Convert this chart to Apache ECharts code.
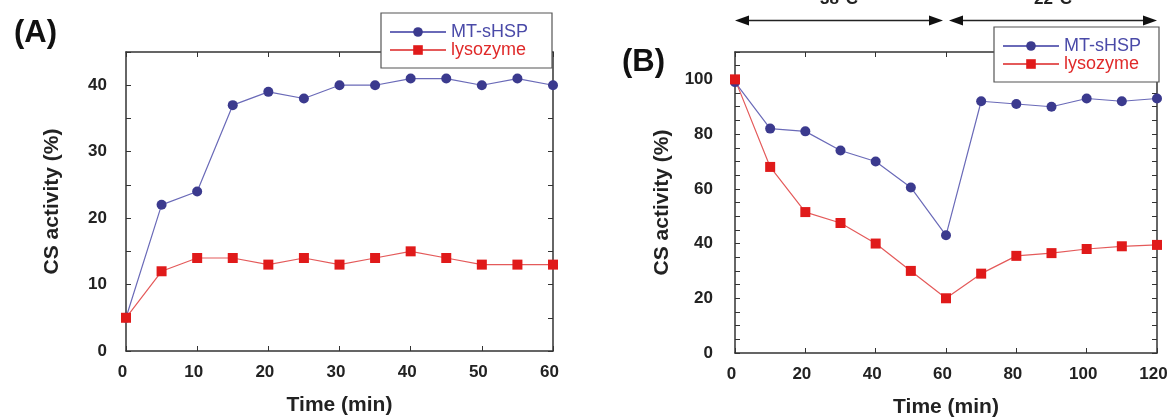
<!DOCTYPE html>
<html>
<head>
<meta charset="utf-8">
<script src="https://cdn.jsdelivr.net/npm/echarts@6/dist/echarts.min.js"></script>
<style>
  html, body { margin: 0; padding: 0; background: #fff; }
  #main { width: 1169px; height: 418px; }
</style>
</head>
<body>
<div id="main"></div>
<script>
/* panel A: 0-60 min */
var timeA = [0, 5, 10, 15, 20, 25, 30, 35, 40, 45, 50, 55, 60];
var hspA = [5, 22, 24, 37, 39, 38, 40, 40, 41, 41, 40, 41, 40];
var lysA = [5, 12, 14, 14, 13, 14, 13, 14, 15, 14, 13, 13, 13];

/* panel B: 38C for 60 min, then 22C */
var timeB = [0, 10, 20, 30, 40, 50, 60, 70, 80, 90, 100, 110, 120];
var hspB = [99, 82, 81, 74, 70, 60.5, 43, 92, 91, 90, 93, 92, 93];
var lysB = [100, 68, 51.5, 47.5, 40, 30, 20, 29, 35.5, 36.5, 38, 39, 39.5];

/* temperature periods above panel B */
var periods = [
    { label: '38°C', from: 0, to: 60 },
    { label: '22°C', from: 60, to: 120 }
];
var arrowLevel = 121.5;

var names = ['MT-sHSP', 'lysozyme'];
var blueDot = '#3b3a8e', blueLine = '#6a6ab8';
var redDot = '#e01a1a', redLine = '#e45a5a';
var axisCol = '#333';
var font = 'Liberation Sans, Arial, sans-serif';

function zip(xs, ys) {
    return xs.map(function (x, i) { return [x, ys[i]]; });
}

var box = document.getElementById('main');
var myChart = echarts.init(box);

function xAx(grid, max, step, top) {
    return {
        type: 'value', gridIndex: grid, min: 0, max: max, interval: step,
        position: top ? 'top' : 'bottom',
        name: top ? '' : 'Time (min)', nameLocation: 'middle', nameGap: 44,
        nameTextStyle: { fontFamily: font, fontWeight: 'bold', fontSize: 21, color: '#222' },
        axisLine: { show: true, onZero: false, lineStyle: { color: axisCol, width: 1.5 } },
        axisTick: { show: true, inside: true, length: 5, lineStyle: { color: axisCol } },
        axisLabel: {
            show: !top, margin: 13, padding: [0, 7, 0, 0],
            fontFamily: font, fontWeight: 'bold', fontSize: 17, color: '#222'
        },
        splitLine: { show: false }
    };
}
function yAx(grid, max, step, labelStep, right, gap, margin) {
    return {
        type: 'value', gridIndex: grid, min: 0, max: max, interval: step,
        position: right ? 'right' : 'left',
        name: right ? '' : 'CS activity (%)', nameLocation: 'middle', nameGap: gap,
        nameTextStyle: { fontFamily: font, fontWeight: 'bold', fontSize: 21, color: '#222' },
        axisLine: { show: true, onZero: false, lineStyle: { color: axisCol, width: 1.5 } },
        axisTick: { show: true, inside: true, length: 5, lineStyle: { color: axisCol } },
        axisLabel: {
            show: !right, margin: margin, fontFamily: font, fontWeight: 'bold', fontSize: 17, color: '#222',
            formatter: function (v) { return v % labelStep === 0 ? String(v) : ''; }
        },
        splitLine: { show: false }
    };
}
function lineSeries(name, x, y, data) {
    var isHsp = name === names[0];
    return {
        name: name, type: 'line', xAxisIndex: x, yAxisIndex: y,
        data: data,
        symbol: isHsp ? 'circle' : 'rect',
        symbolSize: 10,
        itemStyle: { color: isHsp ? blueDot : redDot },
        lineStyle: { color: isHsp ? blueLine : redLine, width: 1.2 },
        emphasis: { disabled: true },
        animation: false
    };
}
function legendAt(left, top, padRight) {
    return {
        left: left, top: top, orient: 'vertical',
        padding: [10, padRight, 9, 8], itemGap: 0,
        itemWidth: 56, itemHeight: 12,
        borderColor: '#555', borderWidth: 1.2, backgroundColor: '#fff',
        textStyle: { fontFamily: font, fontSize: 18, lineHeight: 18 },
        data: [
            { name: names[0], textStyle: { color: '#4a4aa8' } },
            { name: names[1], textStyle: { color: '#e02a2a' } }
        ],
        selectedMode: false
    };
}

var options = {
    backgroundColor: '#fff',
    grid: [
        { left: 126, top: 52, width: 427, height: 299, outerBoundsMode: 'none', containLabel: false },
        { left: 735, top: 52, width: 422, height: 301, outerBoundsMode: 'none', containLabel: false }
    ],
    xAxis: [xAx(0, 60, 10, false), xAx(0, 60, 10, true), xAx(1, 120, 20, false), xAx(1, 120, 20, true)],
    yAxis: [yAx(0, 45, 5, 10, false, 63, 19), yAx(0, 45, 5, 10, true, 0, 0), yAx(1, 110, 5, 20, false, 62, 22), yAx(1, 110, 5, 20, true, 0, 0)],
    legend: [legendAt(381, 13, 24), legendAt(994, 27, 18)],
    title: [
        { text: '(A)', left: 9, top: 13, textStyle: { fontFamily: font, fontWeight: 'bold', fontSize: 31, color: '#111' } },
        { text: '(B)', left: 617, top: 42, textStyle: { fontFamily: font, fontWeight: 'bold', fontSize: 31, color: '#111' } }
    ],
    series: [
        lineSeries(names[0], 0, 0, zip(timeA, hspA)),
        lineSeries(names[1], 0, 0, zip(timeA, lysA)),
        lineSeries(names[0], 2, 2, zip(timeB, hspB)),
        lineSeries(names[1], 2, 2, zip(timeB, lysB))
    ]
};
myChart.setOption(options);

/* temperature arrows, placed through panel B's axes */
var elements = [];
var ay = myChart.convertToPixel({ yAxisIndex: 2 }, arrowLevel);
periods.forEach(function (p, i) {
    var x0 = myChart.convertToPixel({ xAxisIndex: 2 }, p.from) + (i > 0 ? 3 : 0);
    var x1 = myChart.convertToPixel({ xAxisIndex: 2 }, p.to) - (i === 0 ? 3 : 0);
    var head = 14, half = 5;
    elements.push({ type: 'line', shape: { x1: x0 + head - 2, y1: ay, x2: x1 - head + 2, y2: ay }, style: { stroke: '#222', lineWidth: 1.5 } });
    elements.push({ type: 'polygon', shape: { points: [[x0, ay], [x0 + head, ay - half], [x0 + head, ay + half]] }, style: { fill: '#111' } });
    elements.push({ type: 'polygon', shape: { points: [[x1, ay], [x1 - head, ay - half], [x1 - head, ay + half]] }, style: { fill: '#111' } });
    elements.push({
        type: 'text', x: (x0 + x1) / 2, y: 8,
        style: { text: p.label, font: 'bold 17px ' + font, fill: '#222', textAlign: 'center', textVerticalAlign: 'bottom' }
    });
});
myChart.setOption({ graphic: elements });
</script>
</body>
</html>
